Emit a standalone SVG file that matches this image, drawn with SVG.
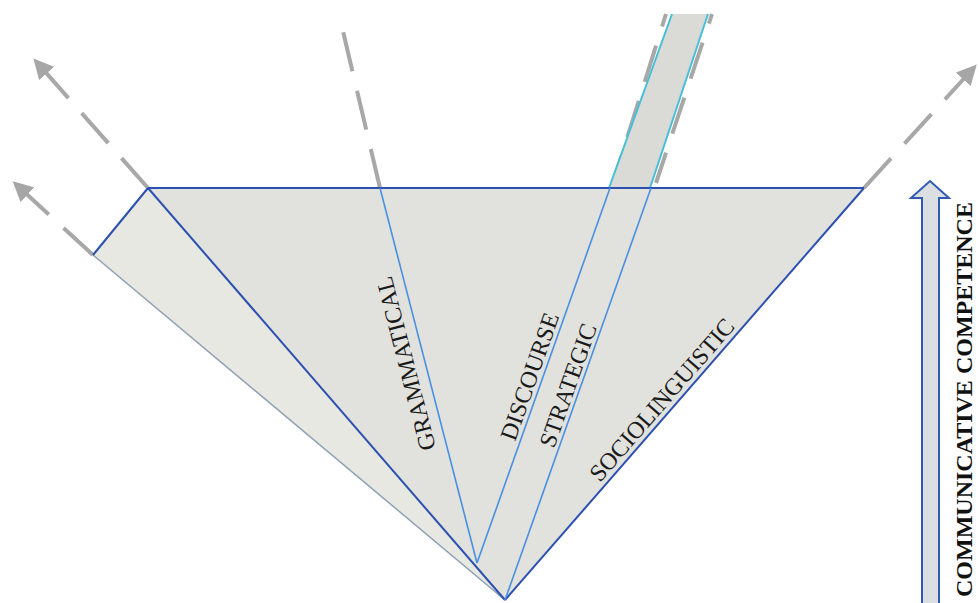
<svg xmlns="http://www.w3.org/2000/svg" width="979" height="603" viewBox="0 0 979 603">
<defs>
<marker id="ah" markerWidth="5" markerHeight="5" refX="2.5" refY="2.5" orient="auto" markerUnits="strokeWidth" viewBox="0 0 5 5">
<path d="M0,0 L5,2.5 L0,5 Z" fill="#a6a6a6"/>
</marker>
<style>
.dash{fill:none;stroke:#a8a8a8;stroke-width:4;stroke-dasharray:40 20}
.edge{fill:none;stroke:#2c50b0;stroke-width:2}
.inner{fill:none;stroke:#4a90e2;stroke-width:1.6}
.lbl{font-family:"Liberation Serif",serif;font-size:24px;fill:#1a1a1a}
.big{font-family:"Liberation Serif",serif;font-size:24px;font-weight:bold;fill:#111}
</style>
</defs>
<rect width="979" height="603" fill="#ffffff"/>

<g id="connectors">
<line class="dash" x1="148" y1="188" x2="40" y2="66" marker-end="url(#ah)"/>
<line class="dash" x1="93" y1="255" x2="20" y2="188" marker-end="url(#ah)"/>
<line class="dash" x1="380" y1="188" x2="342" y2="27"/>
<line class="dash" x1="864" y1="188" x2="970" y2="72" marker-end="url(#ah)"/>
</g>

<g id="strip-left">
<polygon points="93,255 148,188 505,600" fill="#e8e8e3"/>
<line x1="93" y1="255" x2="505" y2="600" stroke="#8ea0b4" stroke-width="1.5"/>
<line class="edge" x1="93" y1="255" x2="148" y2="188"/>
</g>

<g id="top-strip">
<line x1="613" y1="183" x2="666" y2="14" stroke="#a8a8a8" stroke-width="4" stroke-dasharray="38 20" stroke-dashoffset="10"/>
<line x1="656" y1="183" x2="712" y2="14" stroke="#a8a8a8" stroke-width="4" stroke-dasharray="38 20" stroke-dashoffset="6"/>
<polygon points="609,188 650,188 708,14 672,14" fill="#dadad7"/>
<line x1="609" y1="188" x2="672" y2="14" stroke="#45c0d6" stroke-width="2"/>
<line x1="650" y1="188" x2="708" y2="14" stroke="#45c0d6" stroke-width="2"/>
</g>

<g id="triangle">
<polygon points="148,188 864,188 505,600" fill="#e1e1dd"/>
<line class="edge" x1="148" y1="188" x2="864" y2="188"/>
<line class="edge" x1="148" y1="188" x2="505" y2="600"/>
<line class="edge" x1="864" y1="188" x2="505" y2="600"/>
</g>

<g id="grammatical">
<line class="inner" x1="380" y1="188" x2="477" y2="563"/>
<text class="lbl" transform="translate(436,448) rotate(-104.5)">GRAMMATICAL</text>
</g>

<g id="discourse">
<line class="inner" x1="477" y1="563" x2="610" y2="188"/>
<text class="lbl" transform="translate(515,442) rotate(-70.5)">DISCOURSE</text>
</g>

<g id="strategic">
<line class="inner" x1="505" y1="600" x2="651" y2="188"/>
<text class="lbl" transform="translate(554,449) rotate(-70.5)">STRATEGIC</text>
</g>

<g id="sociolinguistic">
<text class="lbl" transform="translate(600,483) rotate(-48.9)">SOCIOLINGUISTIC</text>
</g>

<g id="competence">
<polygon points="922,610 922,198 911,198 930,181 949,198 939,198 939,610" fill="#dcdfe1" stroke="#2f5bb5" stroke-width="2" stroke-linejoin="miter"/>
<text class="big" transform="translate(972,597) rotate(-90)">COMMUNICATIVE COMPETENCE</text>
</g>
</svg>
